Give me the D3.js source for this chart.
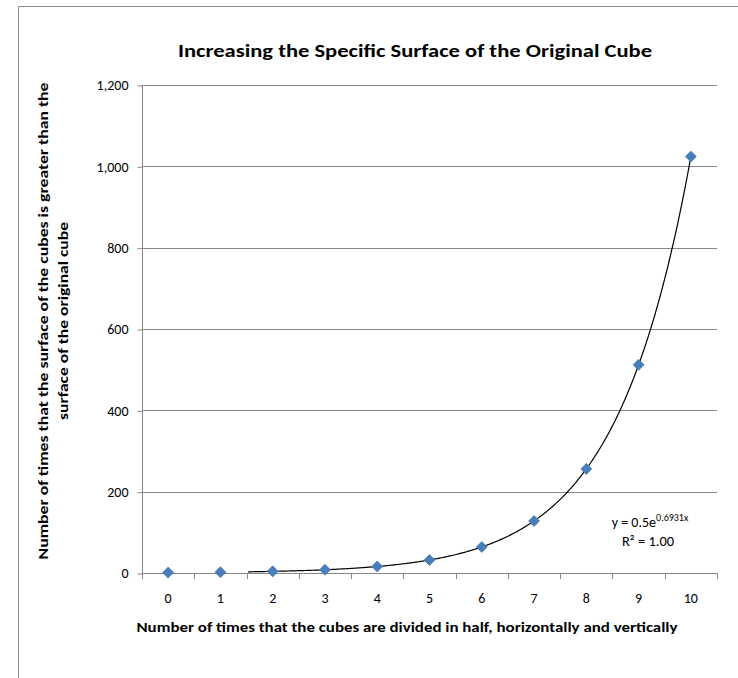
<!DOCTYPE html>
<html>
<head>
<meta charset="utf-8">
<script src="https://cdn.jsdelivr.net/npm/d3@7"></script>
<style>
  html, body { margin: 0; padding: 0; background: #fff; }
  svg { display: block; }
  text { font-family: Carlito, Lato, "Open Sans", sans-serif; fill: #000; }
</style>
</head>
<body>
<svg id="chart" width="738" height="678"></svg>
<script>
// ---- data ----
const categories = [0, 1, 2, 3, 4, 5, 6, 7, 8, 9, 10];
const values = [1, 2, 4, 8, 16, 32, 64, 128, 256, 512, 1024];
const yTicks = [0, 200, 400, 600, 800, 1000, 1200];
const trendA = 0.5;      // y = 0.5 e^(0.6931 x), x = 1..11 (Excel category index)
const trendB = 0.6931;
const trendStart = 1.53; // trendline drawn from this category position
const trendEnd = 10;
const titleText = "Increasing the Specific Surface of the Original Cube";
const xTitle = "Number of times that the cubes are divided in half, horizontally and vertically";
const yTitle1 = "Number of times that the surface of the cubes is greater than the";
const yTitle2 = "surface of the original cube";

const svg = d3.select("#chart");
const pL = 142, pR = 717, pT = 85, pB = 573;
const gridColor = "#878787";
const markerColor = "#4A7EBB";

// outer border (chart area)
svg.append("path")
  .attr("d", "M18.5,678 L18.5,6.5 L738,6.5")
  .attr("fill", "none").attr("stroke", "#8c8c8c").attr("stroke-width", 1);

const x = d3.scaleBand().domain(categories).range([pL, pR]).paddingInner(0).paddingOuter(0);
const xc = d3.scaleLinear().domain([0, categories.length - 1])
  .range([pL + x.bandwidth() / 2, pR - x.bandwidth() / 2]);
const y = d3.scaleLinear().domain([0, 1200]).range([pB, pT]);

// gridlines
svg.append("g").selectAll("line").data(yTicks.filter(d => d > 0)).join("line")
  .attr("x1", pL).attr("x2", pR)
  .attr("y1", d => Math.round(y(d)) + 0.5).attr("y2", d => Math.round(y(d)) + 0.5)
  .attr("stroke", gridColor).attr("stroke-width", 1);

// y axis
const yAxis = svg.append("g").attr("transform", `translate(${pL + 0.5},0.5)`)
  .call(d3.axisLeft(y).tickValues(yTicks).tickSize(5).tickPadding(9).tickFormat(d3.format(",")));
yAxis.select(".domain").attr("stroke", gridColor).attr("d", `M0,${pT - 0.5}V${pB}`);
yAxis.selectAll(".tick line").attr("stroke", gridColor);
yAxis.selectAll(".tick text").style("font-size", "14px").attr("fill", "#1a1a1a")
  .style("font-family", "Carlito, Lato, sans-serif");

// x axis (ticks at category boundaries)
const boundaries = d3.range(categories.length + 1).map(i => pL + i * x.bandwidth());
const xg = svg.append("g");
xg.append("line").attr("x1", pL).attr("x2", pR)
  .attr("y1", pB + 0.5).attr("y2", pB + 0.5).attr("stroke", gridColor);
xg.selectAll("line.tk").data(boundaries).join("line").attr("class", "tk")
  .attr("x1", d => Math.round(d) + 0.5).attr("x2", d => Math.round(d) + 0.5)
  .attr("y1", pB).attr("y2", pB + 6).attr("stroke", gridColor);
xg.selectAll("text").data(categories).join("text")
  .attr("x", d => x(d) + x.bandwidth() / 2).attr("y", pB + 30)
  .attr("text-anchor", "middle").style("font-size", "14px").attr("fill", "#1a1a1a")
  .text(d => d);

// trendline
const trendPts = d3.range(trendStart, trendEnd + 0.0001, 0.02).concat([trendEnd]);
const line = d3.line().x(d => xc(d)).y(d => y(trendA * Math.exp(trendB * (d + 1)))).curve(d3.curveLinear);
svg.append("path").datum(trendPts).attr("d", line)
  .attr("fill", "none").attr("stroke", "#000").attr("stroke-width", 1.2);

// markers
const sym = d3.symbol().type(d3.symbolDiamond2).size(78);
svg.append("g").selectAll("path").data(categories).join("path")
  .attr("transform", (d, i) => `translate(${xc(i)},${y(values[i])})`)
  .attr("d", sym)
  .attr("fill", markerColor).attr("stroke", "#3d6fa8").attr("stroke-width", 0.6);

// title
svg.append("text").attr("x", 415).attr("y", 57).attr("text-anchor", "middle")
  .style("font-size", "19px").style("font-weight", "bold")
  .attr("textLength", 474).attr("lengthAdjust", "spacingAndGlyphs")
  .text(titleText);

// x title
svg.append("text").attr("x", 407).attr("y", 632).attr("text-anchor", "middle")
  .style("font-size", "14.5px").style("font-weight", "bold")
  .attr("textLength", 541).attr("lengthAdjust", "spacingAndGlyphs")
  .text(xTitle);

// y title (two lines, rotated)
svg.append("text").attr("transform", "translate(48,321) rotate(-90)")
  .attr("text-anchor", "middle").style("font-size", "14.5px").style("font-weight", "bold")
  .attr("textLength", 477).attr("lengthAdjust", "spacingAndGlyphs")
  .text(yTitle1);
svg.append("text").attr("transform", "translate(68,321) rotate(-90)")
  .attr("text-anchor", "middle").style("font-size", "14.5px").style("font-weight", "bold")
  .attr("textLength", 198).attr("lengthAdjust", "spacingAndGlyphs")
  .text(yTitle2);

// equation
const eq = svg.append("text").attr("x", 650).attr("y", 527).attr("text-anchor", "middle")
  .style("font-size", "14px").attr("fill", "#1a1a1a");
eq.append("tspan").text("y = " + trendA + "e");
eq.append("tspan").attr("dy", -6).style("font-size", "10px").text(trendB + "x");
svg.append("text").attr("x", 648).attr("y", 546).attr("text-anchor", "middle")
  .style("font-size", "14.5px").attr("fill", "#1a1a1a")
  .text("R² = 1.00");
</script>
</body>
</html>
